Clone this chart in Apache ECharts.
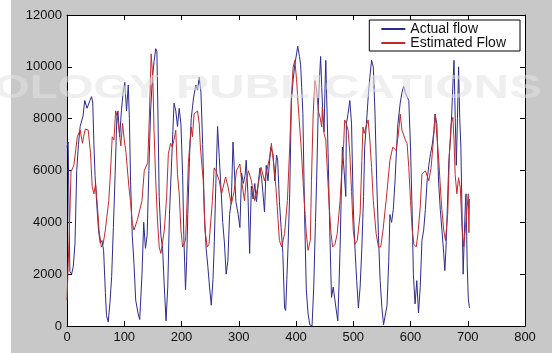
<!DOCTYPE html>
<html>
<head>
<meta charset="utf-8">
<script src="https://cdn.jsdelivr.net/npm/echarts@6/dist/echarts.min.js"></script>
<style>
  html, body { margin: 0; padding: 0; background: #c8c8c8; }
  #chart { width: 552px; height: 353px; }
</style>
</head>
<body>
<div id="chart"></div>
<script>
// series names
const seriesNames = ['Actual flow', 'Estimated Flow'];

// axis ranges (ticks come from min/max/step)
const xRange = [0, 800, 100];
const yRange = [0, 12000, 2000];

// actual flow [sample, flow]
const actualFlow = [
  [0,6900],[2,7100],[3,5400],[5,2100],[8,2000],[11,2300],[14,3200],[17,6000],[20,7000],[23,7700],
  [28,8100],[31,8700],[35,8400],[40,8700],[43,8850],[45,8600],[47,7000],[49,5800],[52,4700],[55,3700],
  [58,3200],[61,3300],[64,2900],[67,1300],[69,400],[72,150],[75,900],[78,1900],[81,3800],[84,5800],
  [87,8000],[89,8300],[92,7300],[95,8300],[98,9000],[101,9400],[104,8300],[107,9300],[109,8000],[111,5600],
  [114,3500],[117,2400],[120,1000],[124,500],[127,250],[129,300],[131,2000],[134,4000],[137,3000],[140,3500],
  [143,6000],[146,8300],[149,9500],[152,10200],[155,10700],[157,10600],[159,8000],[161,5000],[164,3500],[167,3000],
  [170,1500],[173,200],[176,1500],[179,4300],[183,6500],[187,8600],[190,8300],[193,7700],[196,8400],[199,7800],
  [202,5800],[204,3500],[207,1400],[209,2500],[211,4300],[214,6500],[217,8000],[221,8800],[225,9300],[228,9100],
  [231,9600],[234,9000],[237,7000],[240,4300],[243,3000],[246,2300],[249,1500],[252,800],[255,1800],[257,3000],
  [260,5500],[263,7700],[266,6500],[269,5300],[272,4000],[275,3200],[278,2000],[281,2500],[284,4300],[287,4800],
  [290,7100],[292,6200],[295,4800],[299,4300],[302,3800],[305,5900],[308,5500],[311,5800],[313,6400],[316,5100],
  [319,2800],[322,5400],[325,4900],[328,5500],[331,4800],[334,5500],[337,6100],[340,5700],[342,5200],[345,4400],
  [348,6200],[351,5600],[354,6400],[356,6900],[360,6600],[363,5600],[366,6600],[368,6400],[371,4800],[374,3800],
  [377,2800],[380,700],[382,600],[384,1800],[386,3000],[389,5100],[392,8700],[395,9500],[398,10100],[401,10500],
  [403,10800],[406,10400],[408,10100],[410,9200],[412,8200],[415,4300],[418,1400],[421,500],[424,50],[428,0],
  [431,1500],[434,4000],[436,5600],[439,8500],[441,9500],[443,10400],[445,9200],[447,8100],[449,7500],[451,9500],
  [452,10250],[454,8500],[456,6700],[459,3700],[462,1100],[465,1500],[468,1000],[471,500],[473,200],[475,1500],
  [477,3000],[479,5000],[481,6900],[484,6000],[487,5000],[488,7800],[491,8200],[494,8700],[497,7800],[500,4600],
  [503,3000],[506,1750],[509,700],[512,1500],[515,3000],[518,5000],[520,6900],[523,7800],[526,8800],[529,9600],
  [532,10250],[535,10000],[538,8200],[541,5600],[544,3500],[547,1750],[550,700],[553,50],[556,0],[559,800],
  [562,2500],[564,4300],[567,4000],[570,4500],[573,5600],[576,7000],[578,7800],[582,8600],[585,9000],[588,9250],
  [591,9000],[594,8950],[597,8700],[600,6900],[603,4300],[605,2000],[608,850],[611,1750],[614,500],[617,1500],
  [620,3300],[623,3700],[626,4500],[629,5600],[632,6200],[635,6650],[638,7000],[641,7540],[643,8180],[646,7800],
  [649,5600],[652,4500],[655,3670],[658,2800],[660,2140],[662,3000],[664,4300],[667,6370],[670,7300],[672,8180],
  [674,9300],[676,10250],[678,8180],[680,6200],[682,8000],[684,10000],[686,8000],[688,6900],[690,4320],[692,2000],
  [694,3500],[696,4800],[697,5100],[699,2400],[701,1040],[703,700]
];

// estimated flow  [sample, flow]
const estimatedFlow = [
  [0,1000],[2,1000],[5,4300],[7,5950],[12,6200],[18,7300],[23,7560],[27,7050],[29,7300],[32,7600],
  [37,7560],[41,6700],[44,5370],[47,5100],[50,5500],[53,4660],[56,3700],[60,3050],[63,3150],[67,3700],
  [73,4840],[76,5950],[79,7300],[82,7180],[85,8300],[88,8050],[91,7560],[94,6950],[97,7820],[100,7180],
  [103,6700],[105,6180],[108,5400],[111,4800],[114,3960],[117,3700],[123,4100],[131,4840],[135,6000],[138,6070],
  [141,6300],[144,8180],[147,10500],[150,9500],[152,7560],[155,5600],[158,4100],[161,3050],[164,2800],[170,3700],
  [174,4970],[177,6640],[181,7050],[184,6900],[187,7200],[190,7550],[193,5850],[196,5100],[199,3700],[202,3050],
  [207,3300],[209,4320],[212,6300],[217,7680],[219,7300],[222,8180],[228,8300],[231,7800],[233,6900],[238,5600],
  [241,3700],[245,3050],[248,3150],[254,4840],[257,6100],[260,6000],[266,5600],[270,5100],[277,5750],[281,5400],
  [287,4700],[292,5200],[296,5990],[302,6250],[305,5600],[310,4840],[313,5600],[317,5990],[322,5600],[328,4840],
  [333,5340],[339,6120],[345,5600],[349,6000],[354,6500],[357,7050],[361,6250],[365,5340],[368,4320],[371,3300],
  [375,3050],[380,3570],[385,4840],[389,6900],[392,8830],[395,9990],[398,10250],[401,9500],[404,8450],[409,6900],
  [414,4970],[418,3570],[421,2920],[425,3300],[427,5600],[430,8180],[433,9470],[436,9100],[439,8300],[442,8050],
  [445,7680],[446,8450],[449,7430],[452,7180],[454,6300],[458,4630],[461,3600],[464,3050],[468,3150],[472,3570],
  [477,4840],[480,6000],[483,6900],[485,7950],[488,7800],[491,7550],[494,6650],[497,5200],[500,3700],[503,3150],
  [507,3300],[512,4320],[515,6380],[517,7680],[519,7430],[522,7680],[526,7950],[529,7180],[532,6120],[535,4840],
  [540,3560],[544,3050],[548,3050],[552,3700],[558,4970],[564,6380],[569,6900],[572,6900],[575,6770],[579,7430],
  [582,8180],[585,7560],[591,7180],[594,7050],[597,6120],[600,4840],[603,3700],[606,3150],[610,3050],[613,3560],
  [617,4600],[620,5850],[626,5990],[632,5600],[636,6120],[640,7180],[643,8180],[645,7680],[649,6520],[654,4700],
  [658,3700],[661,3300],[665,4320],[668,6650],[671,7800],[674,8050],[676,7180],[678,5850],[681,5100],[684,5720],
  [687,5340],[690,3800],[693,3050],[696,3800],[699,4600],[701,5100],[702,3600],[703,4900]
];

const blue = '#2c2c8c';
const red = '#c42a2a';
const font = 'Liberation Sans, Arial, sans-serif';
const markFill = 'rgba(225,225,225,0.55)';

let chart = echarts.init(document.getElementById('chart'));

function axisStyle(show) {
  return {
    axisLine: { show: true, onZero: false, lineStyle: { color: '#000', width: 1 } },
    axisTick: { show: true, inside: true, length: 5, lineStyle: { color: '#000' } },
    axisLabel: {
      show: show, color: '#111', fontSize: 13, fontFamily: font, margin: 5,
      formatter: function (v) { return String(v); }
    },
    splitLine: { show: false }
  };
}

const option = {
  backgroundColor: '#c8c8c8',
  animation: false,
  grid: {
    left: 67, right: 27, top: 15, bottom: 27,
    show: true, backgroundColor: '#fff', borderWidth: 0
  },
  legend: {
    data: seriesNames,
    orient: 'vertical',
    right: 32, top: 20,
    backgroundColor: '#fff',
    borderColor: '#000', borderWidth: 1, borderRadius: 0,
    padding: [2, 14, 1, 12],
    itemGap: 0,
    itemWidth: 24, itemHeight: 2,
    icon: 'rect',
    textStyle: { fontFamily: font, fontSize: 14, color: '#111' }
  },
  xAxis: [
    Object.assign({ type: 'value', position: 'bottom', min: xRange[0], max: xRange[1], interval: xRange[2] }, axisStyle(true)),
    Object.assign({ type: 'value', position: 'top', min: xRange[0], max: xRange[1], interval: xRange[2] }, axisStyle(false))
  ],
  yAxis: [
    Object.assign({ type: 'value', position: 'left', min: yRange[0], max: yRange[1], interval: yRange[2] }, axisStyle(true)),
    Object.assign({ type: 'value', position: 'right', min: yRange[0], max: yRange[1], interval: yRange[2] }, axisStyle(false))
  ],
  graphic: [
    // white strip on the far left of the scan
    { type: 'rect', left: 0, top: 0, z: -1, shape: { width: 11, height: 353 }, style: { fill: '#fff' } },
    // faint publisher watermark
    { type: 'text', left: -6, top: 72, z: 100, scaleX: 1.35,
      style: { text: 'OLOGY', font: 'bold 34px ' + font, fill: markFill } },
    { type: 'text', left: 176, top: 72, z: 100, scaleX: 1.45,
      style: { text: 'PUBLICATIONS', font: 'bold 34px ' + font, fill: markFill } }
  ],
  series: [
    {
      name: seriesNames[0], type: 'line', data: actualFlow,
      symbol: 'none', showSymbol: false,
      lineStyle: { color: blue, width: 1 }, itemStyle: { color: blue }, z: 3
    },
    {
      name: seriesNames[1], type: 'line', data: estimatedFlow,
      symbol: 'none', showSymbol: false,
      lineStyle: { color: red, width: 1 }, itemStyle: { color: red }, z: 4
    }
  ]
};

chart.setOption(option);
</script>
</body>
</html>
